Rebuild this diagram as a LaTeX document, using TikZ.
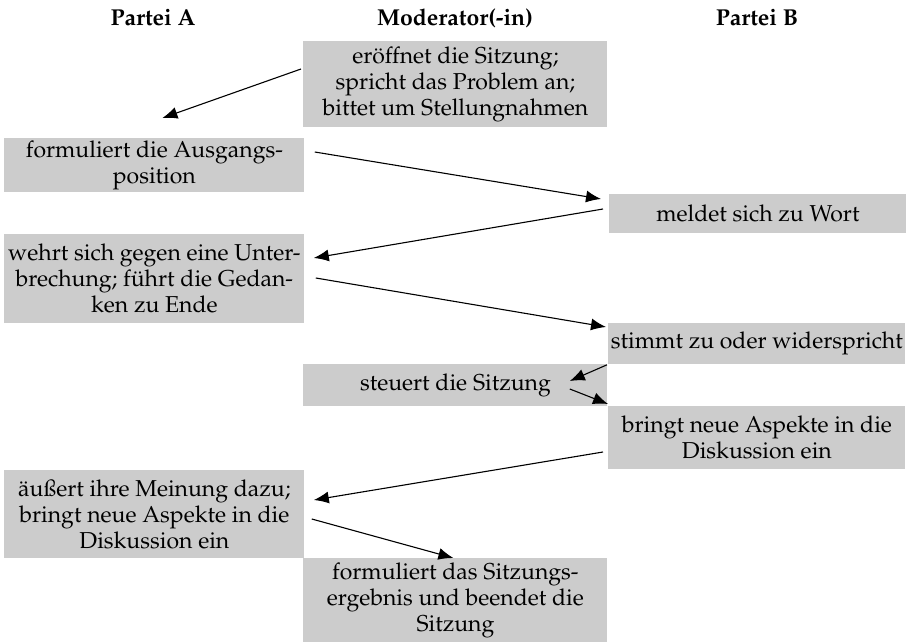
\documentclass[tikz,border=0pt]{standalone}
\usepackage[T1]{fontenc}
\usepackage{mathpazo}
\usetikzlibrary{arrows.meta}
\usetikzlibrary{calc}

\tikzset{
  cell/.style={fill=gray!40,
    inner sep=0pt,
    anchor=north west,
    align=center,
    font=\fontsize{11.5}{13}\selectfont},
  colA/.style={cell, minimum width=150pt},
  colM/.style={cell, minimum width=152pt},
  colB/.style={cell, minimum width=148.5pt},
  head/.style={font=\fontsize{11.5}{13}\selectfont\bfseries},
  move/.style={-{Latex[length=7.5pt,width=6pt]}, line width=0.55pt}
}

\begin{document}
\begin{tikzpicture}[x=0.5pt,y=-0.5pt]
\useasboundingbox (0,0) rectangle (908,642);
% column heads
\node[head] (headA) at (153,18) {Partei A};
\node[head] (headM) at (455,18) {Moderator(-in)};
\node[head] (headB) at (757,18) {Partei B};
% boxes
\node[colM, minimum height=43pt]   (mod1) at (303,41)  {er\"offnet die Sitzung;\\spricht das Problem an;\\bittet um Stellungnahmen};
\node[colA, minimum height=27pt]   (a1)   at (4,138)   {formuliert die Ausgangs-\\position};
\node[colB, minimum height=19.5pt] (b1)   at (609,194) {meldet sich zu Wort};
\node[colA, minimum height=44.5pt] (a2)   at (4,234)   {wehrt sich gegen eine Unter-\\brechung; f\"uhrt die Gedan-\\ken zu Ende};
\node[colB, minimum height=20.5pt] (b2)   at (608,323) {stimmt zu oder widerspricht};
\node[colM, minimum height=21pt]   (mod2) at (303,364) {steuert die Sitzung};
\node[colB, minimum height=31.5pt] (b3)   at (608,406) {bringt neue Aspekte in die\\Diskussion ein};
\node[colA, minimum height=44pt]   (a3)   at (4,470)   {\"au\ss ert ihre Meinung dazu;\\bringt neue Aspekte in die\\Diskussion ein};
\node[colM, minimum height=42pt]   (mod3) at (303,558) {formuliert das Sitzungs-\\ergebnis und beendet die\\Sitzung};
% turns
\draw[move] ($(mod1.north west)+(-2,28)$) -- ($(a1.north)+(8,-20)$);
\draw[move] ($(a1.north east)+(10,14)$) -- ($(b1.north west)+(-8,5)$);
\draw[move] ($(b1.north west)+(-6,15)$) -- ($(a2.north east)+(9,24)$);
\draw[move] ($(a2.north east)+(11,44)$) -- ($(b2.north west)+(-2,4)$);
\draw[move] ($(b2.south west)+(-1,0)$) -- ($(mod2.north east)+(-38,17)$);
\draw[move] ($(mod2.north east)+(-38,25)$) -- ($(b3.north west)+(0,-2)$);
\draw[move] ($(b3.north west)+(-5,46)$) -- ($(a3.north east)+(9,30)$);
\draw[move] ($(a3.north east)+(7,49)$) -- ($(mod3.north)+(-2,0)$);
\end{tikzpicture}
\end{document}
